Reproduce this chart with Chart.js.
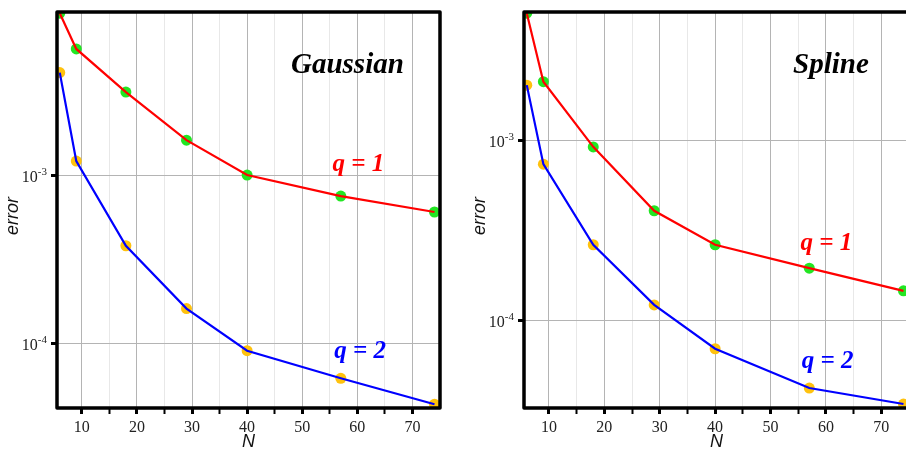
<!DOCTYPE html>
<html>
<head>
<meta charset="utf-8">
<script src="https://cdn.jsdelivr.net/npm/chart.js@4.4.1/dist/chart.umd.min.js"></script>
<style>
  html, body { margin: 0; padding: 0; background: #fff; overflow: hidden; }
  body { width: 906px; height: 449px; position: relative; }
  .panel { position: absolute; top: 0; height: 449px; }
</style>
</head>
<body>
<div class="panel" style="left:0; width:452px;"><canvas id="gaussChart"></canvas></div>
<div class="panel" style="left:467px; width:454px;"><canvas id="splineChart"></canvas></div>
<script>
// Data
const N = [6, 9, 18, 29, 40, 57, 74];
const gaussQ1 = [9.14e-3, 5.61e-3, 3.11e-3, 1.61e-3, 1.0e-3, 7.5e-4, 6.03e-4];
const gaussQ2 = [4.06e-3, 1.21e-3, 3.80e-4, 1.61e-4, 9.04e-5, 6.2e-5, 4.35e-5];
const splineQ1 = [5.06e-3, 2.11e-3, 9.18e-4, 4.06e-4, 2.63e-4, 1.95e-4, 1.46e-4];
const splineQ2 = [2.02e-3, 7.36e-4, 2.63e-4, 1.22e-4, 6.97e-5, 4.22e-5, 3.44e-5];
const xTicks = [10, 15, 20, 25, 30, 35, 40, 45, 50, 55, 60, 65, 70];
const yTicks = [1e-4, 1e-3];
const yTickExp = ["-4", "-3"];

const SERIF = "'Liberation Serif', 'Times New Roman', serif";
const SANS = "'Liberation Sans', Arial, sans-serif";

// draws the frame, the 10^n labels, the axis titles and the in-plot notes
const decor = {
    id: "decor",
    afterDraw(chart, args, opts) {
        const ctx = chart.ctx;
        const a = chart.chartArea;
        const xs = chart.scales.x, ys = chart.scales.y;
        ctx.save();

        ctx.strokeStyle = "#000";
        ctx.lineWidth = 3.5;
        ctx.lineJoin = "round";
        ctx.strokeRect(a.left, a.top, a.right - a.left, a.bottom - a.top);

        // y tick labels with superscript exponent
        ctx.fillStyle = "#222";
        ctx.textBaseline = "alphabetic";
        yTicks.forEach((v, i) => {
            const py = ys.getPixelForValue(v);
            ctx.font = "11px " + SERIF;
            ctx.textAlign = "right";
            const expW = ctx.measureText(yTickExp[i]).width;
            const right = a.left - 10;
            ctx.fillText(yTickExp[i], right, py);
            ctx.font = "16px " + SERIF;
            ctx.fillText("10", right - expW, py + 7);
        });

        // axis titles
        ctx.fillStyle = "#111";
        ctx.font = "italic 18px " + SANS;
        ctx.textAlign = "center";
        ctx.textBaseline = "middle";
        ctx.fillText("N", (a.left + a.right) / 2, 442);
        ctx.save();
        ctx.translate(a.left - 44, 216);
        ctx.rotate(-Math.PI / 2);
        ctx.fillText("error", 0, 0);
        ctx.restore();

        // notes placed in data coordinates
        ctx.textAlign = "center";
        ctx.textBaseline = "alphabetic";
        opts.notes.forEach(n => {
            ctx.fillStyle = n.color;
            ctx.font = "italic bold " + n.size + "px " + SERIF;
            ctx.fillText(n.text, xs.getPixelForValue(n.x), ys.getPixelForValue(n.y));
        });
        ctx.restore();
    }
};

function makePanel(id, q1, q2, yMin, yMax, notes) {
    const pts = (ys) => N.map((x, i) => ({ x: x, y: ys[i] }));
    new Chart(document.getElementById(id), {
        type: "line",
        data: {
            datasets: [
                { data: pts(q1), borderColor: "#ff0000", borderWidth: 2.2, pointRadius: 0, fill: false, order: 0 },
                { data: pts(q2), borderColor: "#0000ff", borderWidth: 2.2, pointRadius: 0, fill: false, order: 0 },
                { data: pts(q1), showLine: false, pointRadius: 5.5, pointBorderWidth: 0,
                  pointBackgroundColor: "#22e622", borderColor: "#22e622", order: 1 },
                { data: pts(q2), showLine: false, pointRadius: 5.5, pointBorderWidth: 0,
                  pointBackgroundColor: "#ffc20e", borderColor: "#ffc20e", order: 1 }
            ]
        },
        options: {
            responsive: true,
            maintainAspectRatio: false,
            animation: false,
            layout: { padding: { top: 12, right: 12, left: 0, bottom: 0 } },
            plugins: {
                legend: { display: false },
                tooltip: { enabled: false },
                decor: { notes: notes }
            },
            scales: {
                x: {
                    type: "linear",
                    min: 5.5,
                    max: 75,
                    afterBuildTicks: (s) => { s.ticks = xTicks.map(v => ({ value: v })); },
                    afterFit: (s) => { s.height = 41; },
                    border: { display: false },
                    grid: {
                        color: (c) => (c.tick && c.tick.value % 10 === 0) ? "#b4b4b4" : "#e8e8e8",
                        lineWidth: 1,
                        tickColor: "#000",
                        tickWidth: (c) => (c.tick && c.tick.value % 10 === 0) ? 3 : 2,
                        tickLength: 6
                    },
                    ticks: {
                        autoSkip: false,
                        maxRotation: 0,
                        padding: 4,
                        color: "#222",
                        font: { family: SERIF, size: 16 },
                        callback: (v) => (v % 10 === 0 ? String(v) : "")
                    }
                },
                y: {
                    type: "logarithmic",
                    min: yMin,
                    max: yMax,
                    afterBuildTicks: (s) => { s.ticks = yTicks.map(v => ({ value: v })); },
                    afterFit: (s) => { s.width = 57; },
                    border: { display: false },
                    grid: { color: "#b4b4b4", lineWidth: 1, tickColor: "#000", tickWidth: 3, tickLength: 6 },
                    ticks: { display: false }
                }
            }
        },
        plugins: [decor]
    });
}

makePanel("gaussChart", gaussQ1, gaussQ2, 4.13e-5, 9.3e-3, [
    { text: "Gaussian", x: 58.2, y: 4.04e-3, color: "#000", size: 29 },
    { text: "q = 1", x: 60.2, y: 1.06e-3, color: "#ff0000", size: 25 },
    { text: "q = 2", x: 60.5, y: 8.2e-5, color: "#0000ff", size: 25 }
]);

makePanel("splineChart", splineQ1, splineQ2, 3.27e-5, 5.14e-3, [
    { text: "Spline", x: 60.9, y: 2.36e-3, color: "#000", size: 29 },
    { text: "q = 1", x: 60.1, y: 2.47e-4, color: "#ff0000", size: 25 },
    { text: "q = 2", x: 60.3, y: 5.47e-5, color: "#0000ff", size: 25 }
]);
</script>
</body>
</html>
